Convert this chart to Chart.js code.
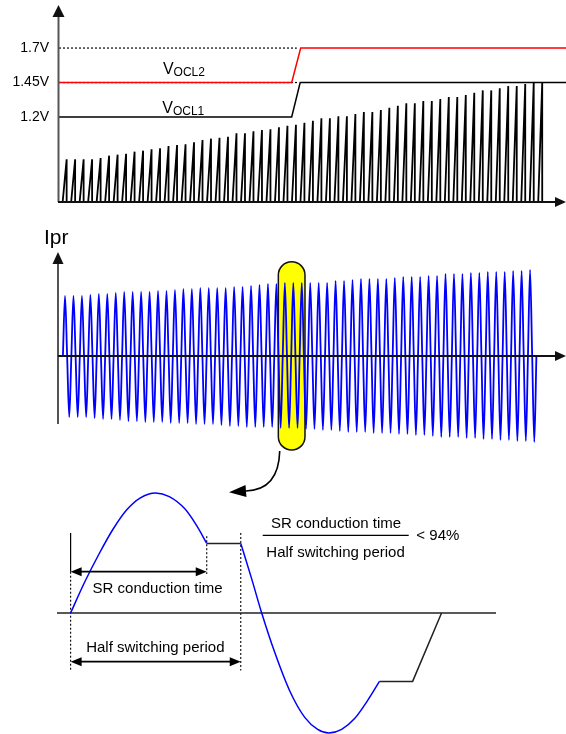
<!DOCTYPE html>
<html><head><meta charset="utf-8">
<script src="https://cdn.jsdelivr.net/npm/chart.js@4.4.1/dist/chart.umd.min.js"></script>
<style>
html,body{margin:0;padding:0;background:#fff;}
#wrap{position:relative;width:566px;height:734px;overflow:hidden;background:#fff;}
canvas{position:absolute;left:0;top:0;}
</style></head><body>
<div id="wrap">
<canvas id="c1" width="566" height="734"></canvas>
<canvas id="c2" width="566" height="734"></canvas>
<canvas id="c3" width="566" height="734"></canvas>
</div>
<script>
// ---------------- DATA ----------------
// Panel 1: sense voltage sawtooth and OCL thresholds (volts, time in switching cycles)
const voltTicks = [1.2, 1.45, 1.7];
const voltBase = 0.584;
const toothPeaks = [0.893,0.893,0.893,0.893,0.903,0.920,0.927,0.934,0.949,0.956,
  0.966,0.973,0.990,0.997,1.002,1.017,1.033,1.043,1.050,1.057,
  1.082,1.082,1.096,1.106,1.111,1.125,1.137,1.144,1.159,1.173,
  1.191,1.191,1.205,1.205,1.222,1.236,1.236,1.251,1.267,1.282,
  1.299,1.299,1.316,1.316,1.330,1.345,1.345,1.359,1.376,1.393,
  1.393,1.408,1.425,1.425,1.439,1.45,1.45];
const vocl1Levels = [1.2, 1.45];
const vocl2Levels = [1.45, 1.7];
const stepTimes = [26.5, 27.5];
const dottedEnds = [27.1, 27.2];

// Panel 2: primary current Ipr, per-cycle positive peaks and negative troughs
const iprPeaks = [0.60,0.60,0.60,0.61,0.62,0.62,0.63,0.64,0.64,0.64,0.64,0.65,0.65,0.66,0.67,0.67,0.68,0.68,0.68,0.68,0.69,0.69,0.70,0.71,
  0.72,0.72,0.73,0.73,0.73,0.73,0.73,0.73,0.75,0.75,0.76,0.77,0.77,0.77,0.77,0.78,0.79,0.79,0.79,0.80,0.80,0.82,0.82,0.82,0.83,0.83,0.84,0.84,0.84,0.85,0.85,0.86];
const iprTroughs = [-0.61,-0.61,-0.61,-0.62,-0.63,-0.63,-0.64,-0.65,-0.65,-0.66,-0.66,-0.66,-0.67,-0.67,-0.67,-0.68,-0.68,-0.68,-0.69,-0.70,-0.70,-0.71,-0.71,-0.71,
  -0.71,-0.72,-0.72,-0.72,-0.73,-0.73,-0.74,-0.74,-0.75,-0.76,-0.76,-0.76,-0.77,-0.77,-0.77,-0.78,-0.78,-0.79,-0.79,-0.80,-0.81,-0.81,-0.81,-0.82,-0.82,-0.83,-0.83,-0.84,-0.84,-0.85,-0.85,-0.86];
const highlightCycles = [25.48, 28.63];
const highlightLevels = [0.943, -0.94];

// Panel 3: one switching period in detail (time in half periods, current normalised to peak)
const srTime    = [0, 0.08, 0.17, 0.25, 0.33, 0.41, 0.5, 0.58, 0.67, 0.74, 0.8];
const srCurrent = [0, 0.25, 0.50, 0.70, 0.86, 0.96, 1.0, 0.97, 0.87, 0.73, 0.58];
const flatTime    = [0.8, 1.0];
const flatCurrent = [0.58, 0.58];
const revTime    = [1.0, 1.065, 1.123, 1.2, 1.288, 1.376, 1.452, 1.518, 1.593, 1.669, 1.745, 1.815];
const revCurrent = [0.58, 0.28, 0, -0.33, -0.65, -0.87, -0.97, -1.0, -0.97, -0.88, -0.73, -0.57];
const tailTime    = [1.815, 2.01, 2.18];
const tailCurrent = [-0.57, -0.57, 0];
const srOffTime = 0.8;
const halfPeriodTime = 1.0;
const ratioLimit = "< 94%";

// ---------------- HELPERS ----------------
const FONT = "'Liberation Sans', Arial, Helvetica, sans-serif";
Chart.defaults.font.family = FONT;
Chart.defaults.animation = false;

function pts(xs, ys){ return xs.map((x,i)=>({x:x, y:ys[i]})); }
function line(ctx,x1,y1,x2,y2){ ctx.beginPath(); ctx.moveTo(x1,y1); ctx.lineTo(x2,y2); ctx.stroke(); }
function head(ctx, tx, ty, ang, len, half){
  ctx.save(); ctx.translate(tx,ty); ctx.rotate(ang);
  ctx.beginPath(); ctx.moveTo(0,0); ctx.lineTo(-len,-half); ctx.lineTo(-len,half); ctx.closePath(); ctx.fill();
  ctx.restore();
}
function dblArrow(ctx, x1, x2, y){
  const len = 11, half = 4.5;
  ctx.lineWidth = 1.8;
  line(ctx, x1+len-1, y, x2-len+1, y);
  head(ctx, x1, y, Math.PI, len, half);
  head(ctx, x2, y, 0, len, half);
}
function subLabel(ctx, x, y, main, sub){
  ctx.textAlign='left'; ctx.textBaseline='alphabetic'; ctx.fillStyle='#000';
  ctx.font = '16px ' + FONT; ctx.fillText(main, x, y);
  const w = ctx.measureText(main).width;
  ctx.font = '12px ' + FONT; ctx.fillText(sub, x + w, y + 2);
}
const baseOpts = (pad, xr, yr) => ({
  responsive:false, animation:false, events:[],
  layout:{padding:pad},
  plugins:{legend:{display:false}, tooltip:{enabled:false}},
  scales:{
    x:{type:'linear', min:xr[0], max:xr[1], display:false},
    y:{type:'linear', min:yr[0], max:yr[1], display:false}
  }
});
const lineDs = (data, color, width, extra) => Object.assign({
  data:data, showLine:true, borderColor:color, borderWidth:width, pointRadius:0, fill:false, clip:false
}, extra||{});

// ---------------- PANEL 1 ----------------
const teethPts = [];
toothPeaks.forEach((p,k)=>{ teethPts.push({x:k-0.47,y:voltBase},{x:k,y:p},{x:k,y:voltBase}); });
const x1Range = [-0.9, 58.8];
const opts1 = baseOpts({left:0,right:0,top:5,bottom:532}, x1Range, [voltBase, 2.012]);
opts1.scales.y = {
  type:'linear', min:voltBase, max:2.012, display:true,
  afterBuildTicks: s => { s.ticks = voltTicks.map(v=>({value:v})); },
  afterFit: s => { s.width = 59; s.paddingTop = 0; s.paddingBottom = 0; },
  ticks:{ callback: v => v + 'V', color:'#000', font:{size:14, family:FONT}, padding:10, autoSkip:false },
  grid:{display:false, drawTicks:false}, border:{display:false}
};
const panel1Plugin = {
  id:'panel1',
  afterDatasetsDraw(chart){
    const {ctx, chartArea:a, scales:{x:xs, y:ys}} = chart;
    ctx.save();
    ctx.fillStyle='#111';
    ctx.strokeStyle='#555'; ctx.lineWidth=2;
    line(ctx, a.left-0.5, a.top+11, a.left-0.5, a.bottom);
    head(ctx, a.left-0.5, a.top, -Math.PI/2, 12, 6);
    ctx.strokeStyle='#111'; ctx.lineWidth=2;
    line(ctx, a.left-1, a.bottom, a.right-10, a.bottom);
    head(ctx, a.right, a.bottom, 0, 11, 5);
    subLabel(ctx, xs.getPixelForValue(11.34), ys.getPixelForValue(1.5116), 'V', 'OCL2');
    subLabel(ctx, xs.getPixelForValue(11.26), ys.getPixelForValue(1.2312), 'V', 'OCL1');
    ctx.restore();
  }
};
new Chart(document.getElementById('c1'), {
  type:'scatter',
  data:{datasets:[
    lineDs([{x:x1Range[0],y:vocl2Levels[0]},{x:stepTimes[0],y:vocl2Levels[0]},{x:stepTimes[1]+0.06,y:vocl2Levels[1]},{x:x1Range[1],y:vocl2Levels[1]}], '#ff0000', 1.5),
    lineDs([{x:x1Range[0],y:vocl1Levels[0]},{x:stepTimes[0],y:vocl1Levels[0]},{x:stepTimes[1],y:vocl1Levels[1]},{x:x1Range[1],y:vocl1Levels[1]}], '#000', 1.5),
    lineDs(teethPts, '#000', 1.8),
    lineDs([{x:x1Range[0],y:voltTicks[2]},{x:dottedEnds[0],y:voltTicks[2]}], '#000', 1.2, {borderDash:[2,2]}),
    lineDs([{x:x1Range[0],y:voltTicks[1]},{x:dottedEnds[1],y:voltTicks[1]}], '#000', 1.2, {borderDash:[2,2]})
  ]},
  options:opts1,
  plugins:[panel1Plugin]
});

// ---------------- PANEL 2 ----------------
const iprPts = [];
iprPeaks.forEach((p,k)=>{ iprPts.push({x:k,y:0},{x:k+0.25,y:p},{x:k+0.5,y:0},{x:k+0.75,y:iprTroughs[k]}); });
iprPts.push({x:iprPeaks.length, y:0});
const panel2Plugin = {
  id:'panel2',
  beforeDatasetsDraw(chart){
    const {ctx, scales:{x:xs, y:ys}} = chart;
    const x1 = xs.getPixelForValue(highlightCycles[0]), x2 = xs.getPixelForValue(highlightCycles[1]);
    const y1 = ys.getPixelForValue(highlightLevels[0]), y2 = ys.getPixelForValue(highlightLevels[1]);
    const r = (x2-x1)/2, cx = (x1+x2)/2;
    ctx.save();
    ctx.beginPath();
    ctx.moveTo(x1, y1+r);
    ctx.arc(cx, y1+r, r, Math.PI, 0);
    ctx.lineTo(x2, y2-r);
    ctx.arc(cx, y2-r, r, 0, Math.PI);
    ctx.closePath();
    ctx.fillStyle='#ffff00'; ctx.fill();
    ctx.strokeStyle='#111'; ctx.lineWidth=1.5; ctx.stroke();
    ctx.restore();
  },
  afterDatasetsDraw(chart){
    const {ctx, chartArea:a, scales:{x:xs, y:ys}} = chart;
    const y0 = ys.getPixelForValue(0);
    ctx.save();
    ctx.fillStyle='#111';
    ctx.strokeStyle='#555'; ctx.lineWidth=2;
    line(ctx, a.left, a.top+11, a.left, a.bottom);
    head(ctx, a.left, a.top, -Math.PI/2, 12, 5.5);
    ctx.strokeStyle='#111'; ctx.lineWidth=2;
    line(ctx, a.left, y0, a.right-10, y0);
    head(ctx, a.right, y0, 0, 11, 5);
    ctx.fillStyle='#000'; ctx.font='21px '+FONT; ctx.textAlign='left'; ctx.textBaseline='alphabetic';
    ctx.fillText('Ipr', xs.getPixelForValue(-2.235), ys.getPixelForValue(1.12));
    ctx.restore();
  }
};
new Chart(document.getElementById('c2'), {
  type:'scatter',
  data:{datasets:[ lineDs(iprPts, '#0000ff', 1.8, {cubicInterpolationMode:'monotone'}) ]},
  options:baseOpts({left:58,right:0,top:252,bottom:310}, [-0.58, 59.5], [-0.68, 1.04]),
  plugins:[panel2Plugin]
});

// ---------------- PANEL 3 ----------------
const panel3Plugin = {
  id:'panel3',
  afterDatasetsDraw(chart){
    const {ctx, scales:{x:xs, y:ys}} = chart;
    const X = v => xs.getPixelForValue(v), Y = v => ys.getPixelForValue(v);
    ctx.save();
    ctx.fillStyle='#000'; ctx.strokeStyle='#000';
    dblArrow(ctx, X(0), X(srOffTime), Y(0.344));
    dblArrow(ctx, X(0), X(halfPeriodTime), Y(-0.406));
    ctx.font='15px '+FONT; ctx.textBaseline='alphabetic'; ctx.textAlign='center';
    ctx.fillText('SR conduction time', X(0.511), Y(0.164));
    ctx.fillText('Half switching period', X(0.498), Y(-0.3275));
    ctx.fillText('SR conduction time', X(1.56), Y(0.711));
    ctx.fillText('Half switching period', X(1.557), Y(0.464));
    ctx.textAlign='left';
    ctx.fillText(ratioLimit, X(2.032), Y(0.608));
    ctx.lineWidth=1.3;
    line(ctx, X(1.129), Y(0.6475), X(1.987), Y(0.6475));
    ctx.lineWidth=1.6;
    ctx.beginPath();
    ctx.moveTo(X(1.229), Y(1.35));
    ctx.quadraticCurveTo(X(1.223), Y(1.025), X(1.03), Y(1.017));
    ctx.stroke();
    const tx = X(0.931), ty = Y(1.006);
    head(ctx, tx, ty, Math.atan2(ty - Y(1.017), tx - X(1.03)), 17, 6);
    ctx.restore();
  }
};
new Chart(document.getElementById('c3'), {
  type:'scatter',
  data:{datasets:[
    lineDs(pts(srTime, srCurrent), '#0000ff', 1.5, {cubicInterpolationMode:'monotone'}),
    lineDs(pts(revTime, revCurrent), '#0000ff', 1.5, {cubicInterpolationMode:'monotone'}),
    lineDs(pts(flatTime, flatCurrent), '#222', 1.5),
    lineDs(pts(tailTime, tailCurrent), '#222', 1.5),
    lineDs([{x:-0.08,y:0},{x:2.5,y:0}], '#222', 1.5),
    lineDs([{x:0,y:0.667},{x:0,y:0.344}], '#000', 1.2),
    lineDs([{x:0,y:0.344},{x:0,y:-0.48}], '#000', 1.1, {borderDash:[2,2]}),
    lineDs([{x:srOffTime,y:0.64},{x:srOffTime,y:0.325}], '#000', 1.1, {borderDash:[2,2]}),
    lineDs([{x:halfPeriodTime,y:0.667},{x:halfPeriodTime,y:-0.48}], '#000', 1.1, {borderDash:[2,2]})
  ]},
  options:baseOpts({left:57,right:70,top:481,bottom:1}, [-0.08, 2.5], [-1.0, 1.1]),
  plugins:[panel3Plugin]
});
</script>
</body></html>
